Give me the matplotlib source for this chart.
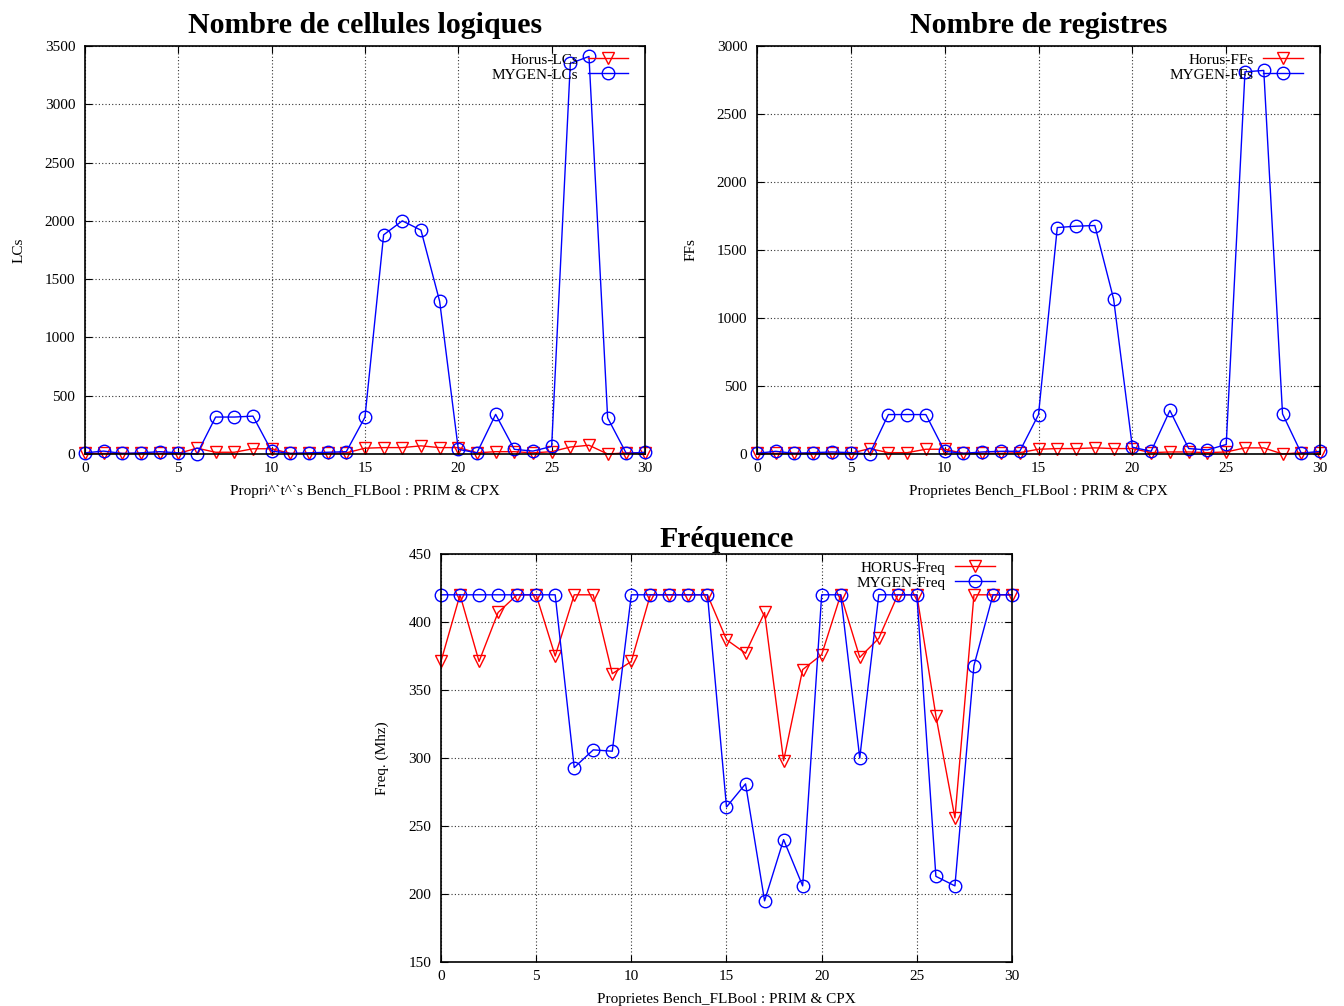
import matplotlib
matplotlib.use("Agg")
import matplotlib.pyplot as plt

plt.rcParams['font.family'] = ['Liberation Serif', 'DejaVu Serif']

x = list(range(31))

horus_lcs = [5, 5, 5, 5, 5, 5, 50, 15, 15, 45, 45, 5, 5, 5, 10, 50, 55, 55, 70, 55,
             55, 10, 20, 20, 10, 20, 60, 75, 0, 10, 10]
mygen_lcs = [10, 25, 5, 10, 20, 10, 0, 317, 317, 325, 25, 5, 10, 15, 20, 316, 1880, 2000,
             1920, 1310, 40, 10, 340, 40, 25, 65, 3350, 3410, 310, 5, 15]

horus_ffs = [5, 5, 5, 5, 5, 5, 40, 10, 10, 35, 35, 5, 5, 5, 10, 35, 40, 40, 45, 40,
             40, 10, 15, 15, 10, 15, 45, 45, 0, 10, 10]
mygen_ffs = [5, 20, 5, 10, 15, 10, 0, 290, 290, 290, 20, 5, 15, 20, 20, 290, 1665, 1675,
             1680, 1140, 50, 20, 320, 40, 30, 70, 2810, 2820, 295, 5, 20]

horus_freq = [371, 420, 371, 407, 420, 420, 375, 420, 420, 362, 371, 420, 420, 420, 420,
              387, 377, 407, 298, 365, 376, 420, 374, 388, 420, 420, 331, 256, 420, 420, 420]
mygen_freq = [420, 420, 420, 420, 420, 420, 420, 293, 306, 305, 420, 420, 420, 420, 420,
              264, 281, 195, 240, 206, 420, 420, 300, 420, 420, 420, 213, 206, 368, 420, 420]

xlabel_lc = "Propri^`t^`s Bench_FLBool : PRIM & CPX"
xlabel_ff = "Proprietes Bench_FLBool : PRIM & CPX"

fig = plt.figure(figsize=(13.44, 10.06), dpi=100)

ax1 = fig.add_axes([0.0632, 0.5487, 0.4167, 0.4056])
ax2 = fig.add_axes([0.5632, 0.5487, 0.4190, 0.4056])
ax3 = fig.add_axes([0.3281, 0.0437, 0.4249, 0.4056])

tick_fs = 11
lab_fs = 11

def style(ax, ylim, yticks, title, ylabel, xlabel, titlepad=9):
    ax.set_xlim(0, 30)
    ax.set_ylim(*ylim)
    ax.set_xticks(range(0, 31, 5))
    ax.set_yticks(yticks)
    ax.grid(True, linestyle=(0, (1, 2)), color='#333333', linewidth=0.8)
    ax.set_axisbelow(True)
    ax.tick_params(direction='in', top=True, right=True, length=5, labelsize=tick_fs)
    ax.tick_params(axis='y', pad=7)
    ax.tick_params(axis='x', pad=6)
    for s in ax.spines.values():
        s.set_linewidth(1.2)
    ax.set_title(title, fontsize=21.5, fontweight='bold', pad=titlepad)
    ax.set_ylabel(ylabel, fontsize=lab_fs, labelpad=14)
    ax.set_xlabel(xlabel, fontsize=lab_fs, labelpad=7)

mk = dict(markersize=9, markerfacecolor='none', linewidth=1.0, markeredgewidth=1.0,
          clip_on=False)

ax1.plot(x, horus_lcs, color='red', marker='v', label='Horus-LCs', **mk)
ax1.plot(x, mygen_lcs, color='blue', marker='o', label='MYGEN-LCs', **mk)
style(ax1, (0, 3500), range(0, 3501, 500), 'Nombre de cellules logiques', 'LCs', xlabel_lc)

ax2.plot(x, horus_ffs, color='red', marker='v', label='Horus-FFs', **mk)
ax2.plot(x, mygen_ffs, color='blue', marker='o', label='MYGEN-FFs', **mk)
style(ax2, (0, 3000), range(0, 3001, 500), 'Nombre de registres', 'FFs', xlabel_ff)

ax3.plot(x, horus_freq, color='red', marker='v', label='HORUS-Freq', **mk)
ax3.plot(x, mygen_freq, color='blue', marker='o', label='MYGEN-Freq', **mk)
style(ax3, (150, 450), range(150, 451, 50), 'Fréquence', 'Freq. (Mhz)', xlabel_ff, titlepad=5)

for ax in (ax1, ax2, ax3):
    w = ax.get_position().width * 1344
    ax.legend(loc='upper right', frameon=False, markerfirst=False, fontsize=11,
              handlelength=2.6, handletextpad=0.65, labelspacing=0.08,
              borderpad=0.0, borderaxespad=0.0,
              bbox_to_anchor=(1 - 17 / w, 1 - 7 / 408))

fig.savefig('out.png', dpi=100)
